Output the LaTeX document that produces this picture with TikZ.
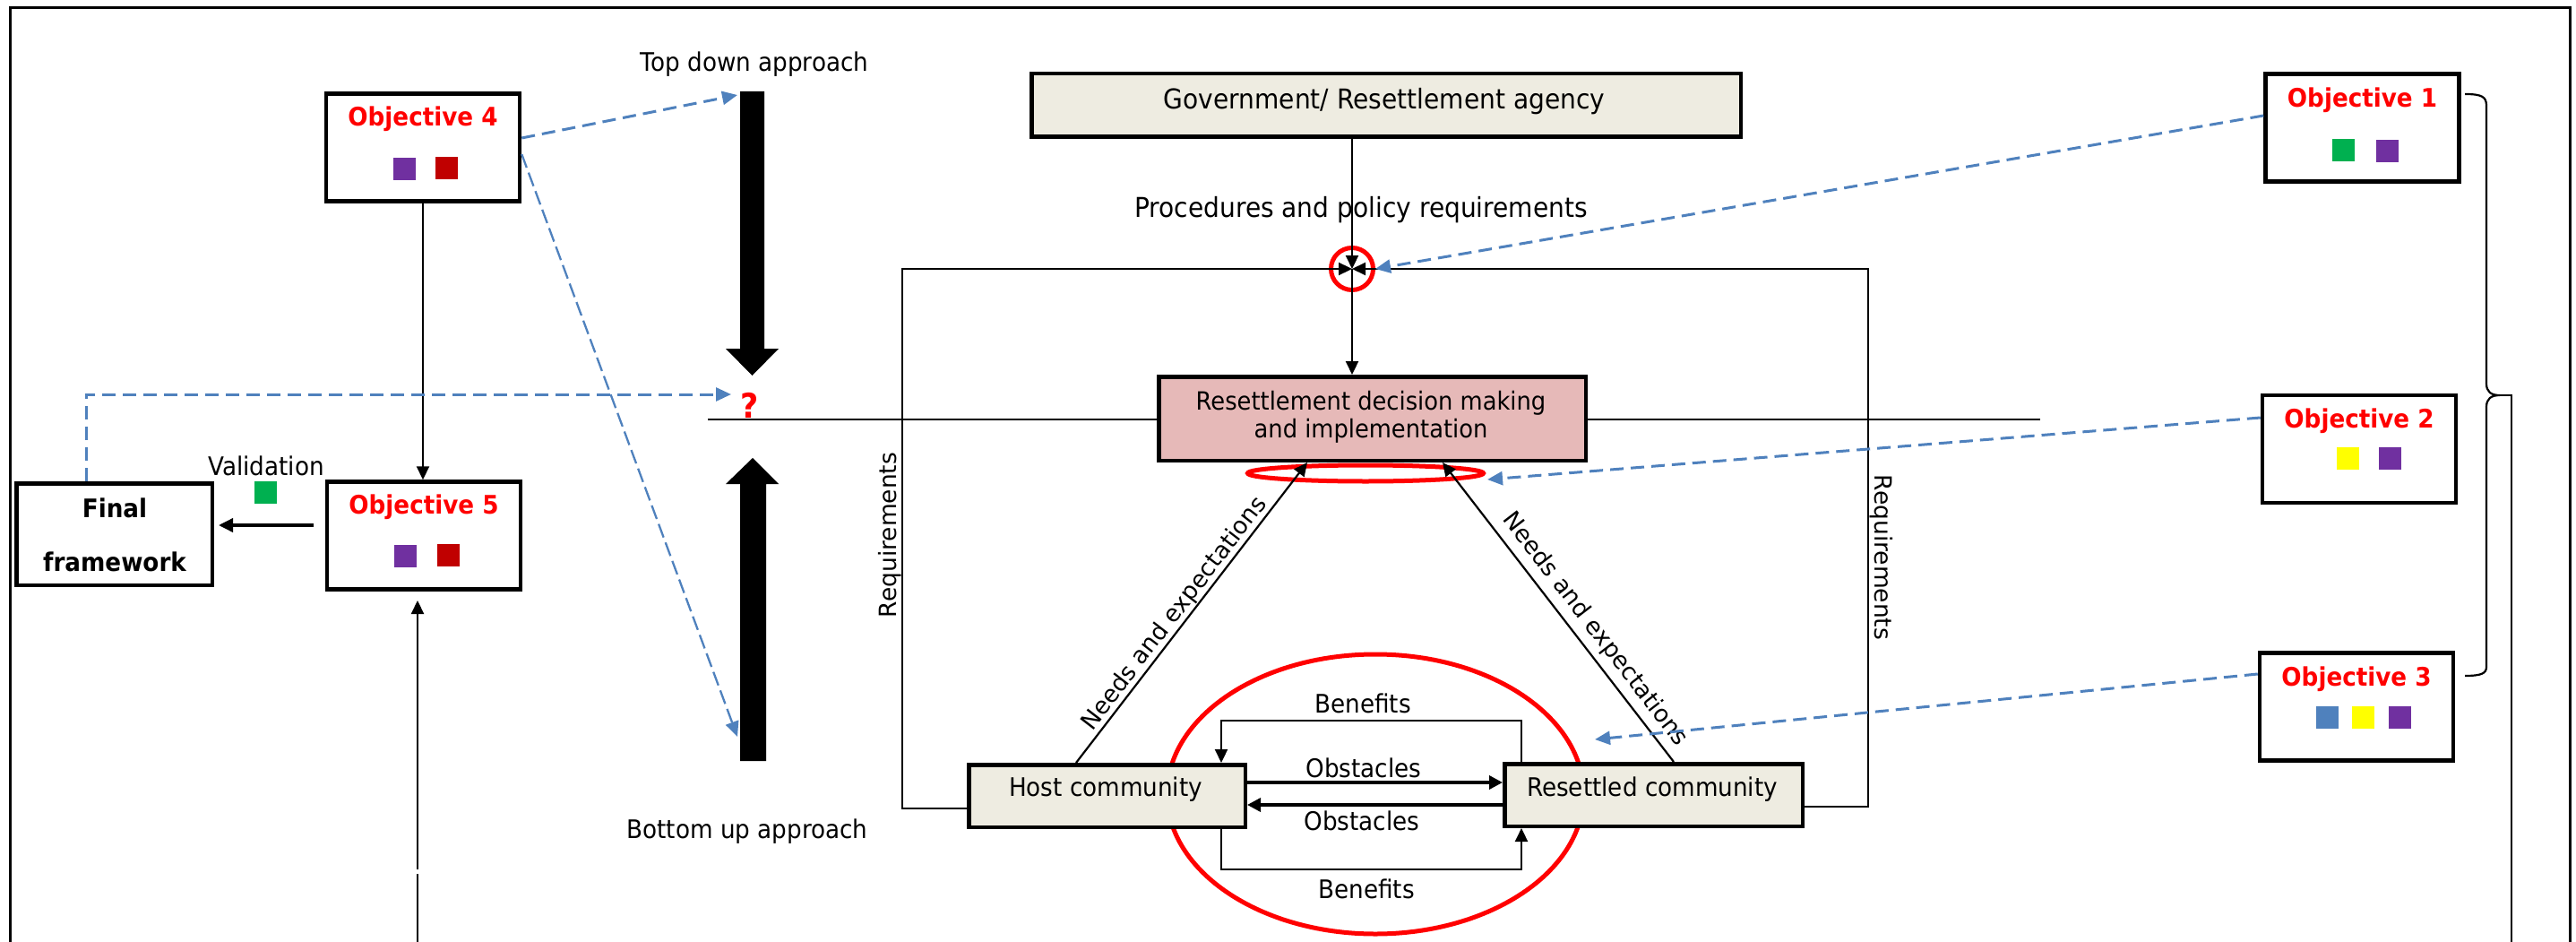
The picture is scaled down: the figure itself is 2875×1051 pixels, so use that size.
\documentclass[tikz,border=0pt]{standalone}
\usepackage{fontspec}
\setmainfont{DejaVu Sans}[FakeStretch=0.92]
\newfontfamily\verd{DejaVu Sans}
\usetikzlibrary{arrows.meta,shapes.geometric}
\definecolor{dblue}{HTML}{4F81BD}
\definecolor{objred}{HTML}{FF0000}
\definecolor{sqpurple}{HTML}{7030A0}
\definecolor{sqred}{HTML}{C00000}
\definecolor{sqgreen}{HTML}{00B050}
\definecolor{sqyellow}{HTML}{FFFF00}
\definecolor{sqblue}{HTML}{4F81BD}
\definecolor{beige}{HTML}{EEECE1}
\definecolor{pinkbox}{HTML}{E6B9B8}
\begin{document}
\begin{tikzpicture}[x=1pt,y=-1pt,
  box/.style={draw, line width=4.5pt, inner sep=0pt},
  objbox/.style={box, fill=white, minimum width=216pt, minimum height=120pt},
  lab/.style={inner sep=0pt, font=\fontsize{28.5}{33}\selectfont},
  biglab/.style={inner sep=0pt, font=\fontsize{30.5}{35}\selectfont},
  vlab/.style={inner sep=0pt, font=\verd\fontsize{26.5}{30}\selectfont},
  objlab/.style={inner sep=0pt, text=objred, font=\fontsize{28.5}{33}\selectfont\bfseries},
  boldlab/.style={inner sep=0pt, font=\fontsize{28.5}{33}\selectfont\bfseries},
  sq/.style={inner sep=0pt, minimum width=25pt, minimum height=25pt},
  thinln/.style={line width=2.2pt},
  tipa/.style={-{Triangle[length=15pt,width=14pt]}},
  bluedash/.style={draw=dblue, line width=3pt, dash pattern=on 15pt off 8pt, -{Triangle[length=17pt,width=15pt]}},
  redring/.style={draw=objred, line width=5pt, ellipse, inner sep=0pt},
]
\useasboundingbox (0,0) rectangle (2875,1051);

% outer frame
\draw[line width=3pt] (11,1051) -- (11,9) -- (2868,9) -- (2868,1051);

% coordinates
\coordinate (J) at (1509,300);
\coordinate (tdtop) at (823,106);
\coordinate (bubot) at (823,822);
\coordinate (qin) at (816,440);
\coordinate (hl1) at (790,468);
\coordinate (hl2) at (2277,468);
\coordinate (va) at (350,586);
\coordinate (vb) at (244,586);
\coordinate (up1) at (466,1051);
\coordinate (up2) at (466,975);
\coordinate (up3) at (466,970);
\coordinate (up4) at (466,670);
\coordinate (o3end) at (1780,825);
\coordinate (smE) at (1660,535);

% horizontal line
\draw[thinln] (hl1) -- (hl2);

% big red ellipse
\node[redring, minimum width=465pt, minimum height=312pt] (bigring) at (1535,886) {};
% small red ellipse
\draw[draw=objred, line width=5pt] (1524,528) ellipse [x radius=131.5pt, y radius=9pt];

% thick approach arrows
\fill (826,102) -- (853,102) -- (853,389) -- (869,389) -- (839.5,419) -- (810,389) -- (826,389) -- cycle;
\fill (826,849) -- (855,849) -- (855,540) -- (869,540) -- (840,511) -- (810,540) -- (826,540) -- cycle;
\node[lab] (tdl) at (842,72) {Top down approach};
\node[lab] (bul) at (834,928) {Bottom up approach};
\node[inner sep=0pt, text=objred, font=\fontsize{38}{40}\selectfont\bfseries] (qm) at (837,452) {?};

% boxes
\node[objbox] (o4) at (472,164.5) {};
\node[objlab] (o4t) at (472,133) {Objective 4};
\node[sq, fill=sqpurple] (o4a) at (451.5,188.5) {};
\node[sq, fill=sqred] (o4b) at (498.5,188) {};

\node[objbox] (o5) at (473,597.5) {};
\node[objlab] (o5t) at (473,566) {Objective 5};
\node[sq, fill=sqpurple] (o5a) at (452.5,620) {};
\node[sq, fill=sqred] (o5b) at (500,619.5) {};

\node[objbox] (o1) at (2636.5,142.5) {};
\node[objlab] (o1t) at (2636.5,112) {Objective 1};
\node[sq, fill=sqgreen] (o1a) at (2615,167.5) {};
\node[sq, fill=sqpurple] (o1b) at (2664,168.5) {};

\node[objbox] (o2) at (2633,501) {};
\node[objlab] (o2t) at (2633,470) {Objective 2};
\node[sq, fill=sqyellow] (o2a) at (2620.5,511.5) {};
\node[sq, fill=sqpurple] (o2b) at (2667.5,511) {};

\node[objbox] (o3) at (2630,788.5) {};
\node[objlab] (o3t) at (2630,758) {Objective 3};
\node[sq, fill=sqblue] (o3a) at (2597.5,800.5) {};
\node[sq, fill=sqyellow] (o3b) at (2637.5,800.5) {};
\node[sq, fill=sqpurple] (o3c) at (2678.5,800.5) {};

\node[box, fill=white, minimum width=218.5pt, minimum height=113.5pt] (ff) at (127.5,596) {};
\node[boldlab] (fft1) at (128,567) {Final};
\node[boldlab] (fft2) at (128,627) {framework};
\node[lab] (val) at (297,520) {Validation};
\node[sq, fill=sqgreen] (vsq) at (296,549.5) {};

\node[box, fill=beige, minimum width=791.5pt, minimum height=70.5pt] (gov) at (1547,117.5) {};
\node[biglab] (govt) at (1545,113) {Government/ Resettlement agency};
\node[biglab] (proc) at (1519,234) {Procedures and policy requirements};

\node[box, fill=pinkbox, minimum width=476.5pt, minimum height=93.5pt] (res) at (1531.5,467) {};
\node[lab, align=center, font=\fontsize{28}{31}\selectfont] (rest) at (1530,465.5) {Resettlement decision making\\and implementation};

\node[box, fill=beige, minimum width=308.5pt, minimum height=69.5pt] (host) at (1235.5,888) {};
\node[lab] (hostt) at (1234,881) {Host community};
\node[box, fill=beige, minimum width=332.5pt, minimum height=69.5pt] (rc) at (1845.5,887) {};
\node[lab] (rct) at (1844,881) {Resettled community};

% junction ring
\node[draw=objred, line width=5pt, circle, minimum size=47pt, inner sep=0pt] (jc) at (J) {};

% requirement lines
\draw[thinln, tipa] (host.west |- 0,902) -| (1007,300) -- (J);
\draw[thinln, tipa] (rc.east |- 0,900) -| (2085,300) -- (J);
\draw[thinln, tipa] (gov.south -| J) -- (J);
\draw[thinln, tipa] (J) -- (res.north -| J);
\node[vlab, rotate=90] (reqL) at (993,597) {Requirements};
\node[vlab, rotate=-90] (reqR) at (2100,622) {Requirements};

% needs and expectations
\draw[thinln, tipa] ([xshift=-34.5pt]host.north) -- ([xshift=-72.5pt]res.south);
\draw[thinln, tipa] ([xshift=22.5pt]rc.north) -- ([xshift=78.5pt]res.south);
\node[vlab, rotate=52.4] (neL) at (1311,685) {Needs and expectations};
\node[vlab, rotate=-52.4] (neR) at (1780,702) {Needs and expectations};

% benefits and obstacles
\draw[thinln, tipa] ([xshift=-147.5pt]rc.north) -- ++(0,-46) -| ([xshift=127.5pt]host.north);
\draw[thinln, tipa] ([xshift=127.5pt]host.south) -- ++(0,45) -| ([xshift=-147.5pt]rc.south);
\draw[line width=3.5pt, -{Triangle[length=15pt,width=15pt]}] (host.east |- 0,873) -- (rc.west |- 0,873);
\draw[line width=3.5pt, -{Triangle[length=15pt,width=15pt]}] (rc.west |- 0,898) -- (host.east |- 0,898);
\node[lab] (ben1) at (1521,785) {Benefits};
\node[lab] (obs1) at (1522,857) {Obstacles};
\node[lab] (obs2) at (1520,916) {Obstacles};
\node[lab] (ben2) at (1525,992) {Benefits};

% left side connectors
\draw[thinln, tipa] (o4.south) -- (o4.south |- o5.north);
\draw[line width=3.5pt, -{Triangle[length=16pt,width=15pt]}] (va) -- (vb);
\draw[thinln] (up1) -- (up2);
\draw[thinln, tipa] (up3) -- (up4);

% blue dashed arrows
\draw[bluedash] ([yshift=10.5pt]o4.east) -- (tdtop);
\draw[bluedash, line width=2.3pt, dash pattern=on 16pt off 6pt] ([yshift=-7.5pt]o4.east) -- (bubot);
\draw[bluedash] ([xshift=-31.5pt]ff.north) |- (qin);
\draw[bluedash] ([yshift=13.5pt]o1.west) -- (jc.east);
\draw[bluedash] ([yshift=35pt]o2.west) -- (smE);
\draw[bluedash] ([yshift=36.5pt]o3.west) -- (o3end);

% brace
\draw[thinln] (2751,105) .. controls (2770,105) and (2775,108) .. (2775,118) -- (2775,428) .. controls (2775,437) and (2780,441) .. (2790,441) .. controls (2780,441) and (2775,445) .. (2775,454) -- (2775,744) .. controls (2775,751) and (2770,754) .. (2751,754);
\draw[thinln] (2790,441) -- (2803,441) -- (2803,1051);
\end{tikzpicture}
\end{document}
